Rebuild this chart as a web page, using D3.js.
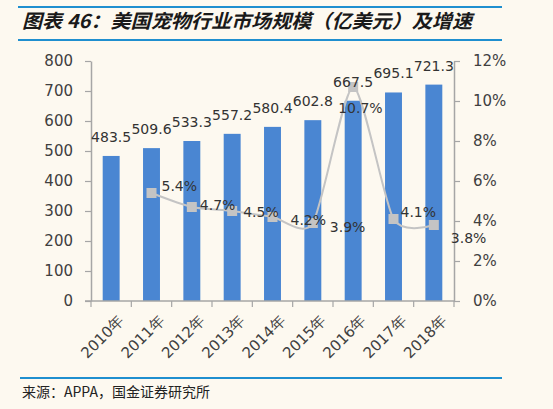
<!DOCTYPE html>
<html><head><meta charset="utf-8">
<script src="https://cdn.jsdelivr.net/npm/d3@7"></script>
<style>
html,body{margin:0;padding:0;background:#fdf9f0;}
svg{display:block;}
</style></head>
<body>
<script>
const categories = ["2010年","2011年","2012年","2013年","2014年","2015年","2016年","2017年","2018年"];
const marketSize = [483.5, 509.6, 533.3, 557.2, 580.4, 602.8, 667.5, 695.1, 721.3];
const growth = [null, 5.4, 4.7, 4.5, 4.2, 3.9, 10.7, 4.1, 3.8];
const leftTicks = [0,100,200,300,400,500,600,700,800];
const rightTicks = [0,2,4,6,8,10,12];
const titleText = "图表 46：美国宠物行业市场规模（亿美元）及增速";
const sourceText = "来源：APPA，国金证券研究所";

// label nudges (layout only) for growth labels: [dx, dy]
const growthLabelNudge = [null,[10,-2],[8,3],[11,6],[18,8],[17,9],[-15,26],[7,-2],[17,18]];

const W = 553, H = 409;
const svg = d3.select("body").append("svg").attr("width", W).attr("height", H);
svg.append("rect").attr("width", W).attr("height", H).attr("fill", "#fdf9f0");

// title & rules
const blue = "#1f8fcf";
svg.append("line").attr("x1",18).attr("x2",502).attr("y1",7).attr("y2",7).attr("stroke",blue).attr("stroke-width",2);
svg.append("line").attr("x1",18).attr("x2",502).attr("y1",40).attr("y2",40).attr("stroke",blue).attr("stroke-width",2);
svg.append("text").attr("x",22).attr("y",28)
  .attr("font-family","'Noto Sans CJK SC', sans-serif").attr("font-weight","bold").attr("font-style","italic")
  .attr("font-size",19).attr("fill","#1a1a1a").attr("textLength",450).attr("lengthAdjust","spacingAndGlyphs")
  .text(titleText);
svg.append("line").attr("x1",20).attr("x2",502).attr("y1",378).attr("y2",378).attr("stroke",blue).attr("stroke-width",2);
svg.append("text").attr("x",22).attr("y",397)
  .attr("font-family","'Noto Sans CJK SC', sans-serif").attr("font-size",14).attr("fill","#222")
  .text(sourceText);

const pLeft = 91, pRight = 454, pTop = 61, pBottom = 301;
const x = d3.scaleBand().domain(categories).range([pLeft, pRight]).paddingInner(0.58).paddingOuter(0.29);
const yL = d3.scaleLinear().domain([0,800]).range([pBottom, pTop]);
const yR = d3.scaleLinear().domain([0,12]).range([pBottom, pTop]);

const axisColor = "#a6a6a6";
const font = "'DejaVu Sans', Verdana, sans-serif";

// left axis
const gL = svg.append("g").attr("transform",`translate(${pLeft},0)`)
  .call(d3.axisLeft(yL).tickValues(leftTicks).tickSize(6).tickPadding(12).tickSizeOuter(0));
// right axis
const gR = svg.append("g").attr("transform",`translate(${pRight},0)`)
  .call(d3.axisRight(yR).tickValues(rightTicks).tickFormat(d => d + "%").tickSize(6).tickPadding(13).tickSizeOuter(0));
[gL, gR].forEach(g => {
  g.select(".domain").attr("stroke", axisColor).attr("stroke-width", 1.5);
  g.selectAll(".tick line").attr("stroke", axisColor).attr("stroke-width", 1.2);
  g.selectAll(".tick text").attr("font-family", font).attr("font-size", 15).attr("fill", "#404040");
});

// bars
svg.append("g").selectAll("rect").data(marketSize).join("rect")
  .attr("x", (d,i) => x(categories[i]))
  .attr("width", x.bandwidth())
  .attr("y", d => yL(d))
  .attr("height", d => pBottom - yL(d))
  .attr("fill", "#4a86d2");

// bottom axis (ticks at band boundaries)
const boundaries = d3.range(categories.length + 1).map(i => pLeft + i * (pRight-pLeft)/categories.length);
const gB = svg.append("g");
gB.append("line").attr("x1", pLeft - 6).attr("x2", pRight).attr("y1", pBottom).attr("y2", pBottom)
  .attr("stroke", axisColor).attr("stroke-width", 1.5);
gB.selectAll("line.t").data(boundaries).join("line").attr("class","t")
  .attr("x1", d => d).attr("x2", d => d).attr("y1", pBottom).attr("y2", pBottom + 6)
  .attr("stroke", axisColor).attr("stroke-width", 1.2);
gB.selectAll("text").data(categories).join("text")
  .attr("transform", d => `translate(${x(d) + x.bandwidth()/2 + 10},${pBottom + 17}) rotate(-45)`)
  .attr("text-anchor","end").attr("dy","0.35em")
  .attr("font-family", font).attr("font-size", 15).attr("fill", "#404040")
  .text(d => d);

// growth line
const pts = growth.map((g,i) => g == null ? null : [x(categories[i]) + x.bandwidth()/2, yR(g)]).filter(p => p);
svg.append("path").attr("d", d3.line().curve(d3.curveCardinal.tension(0.3))(pts))
  .attr("fill","none").attr("stroke","#c4c4c4").attr("stroke-width",2);
svg.append("g").selectAll("rect").data(pts).join("rect")
  .attr("x", d => d[0]-5).attr("y", d => d[1]-5).attr("width",10).attr("height",10)
  .attr("fill","#c4c4c4");

// bar labels
svg.append("g").selectAll("text").data(marketSize).join("text")
  .attr("x", (d,i) => x(categories[i]) + x.bandwidth()/2)
  .attr("y", d => yL(d) - 14)
  .attr("text-anchor","middle")
  .attr("font-family", font).attr("font-size", 14).attr("fill", "#333")
  .text(d => d.toFixed(1));

// growth labels
svg.append("g").selectAll("text").data(growth.map((g,i)=>({g,i})).filter(d => d.g != null)).join("text")
  .attr("x", d => x(categories[d.i]) + x.bandwidth()/2 + growthLabelNudge[d.i][0])
  .attr("y", d => yR(d.g) + growthLabelNudge[d.i][1])
  .attr("font-family", font).attr("font-size", 14).attr("fill", "#333")
  .text(d => d.g.toFixed(1) + "%");
</script>
</body></html>
